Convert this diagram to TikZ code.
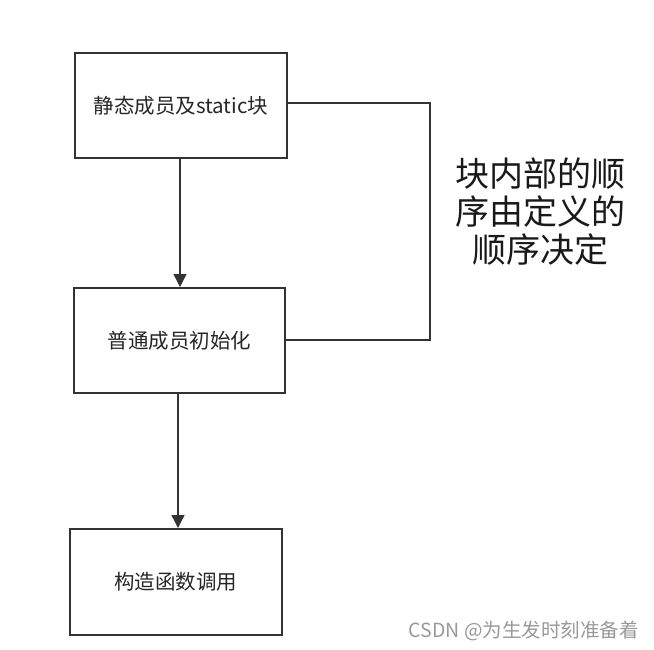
\documentclass[tikz,border=0pt]{standalone}
\usepackage{fontspec}
\setmainfont{Noto Sans CJK SC}
\newfontfamily\cjk{Noto Sans CJK SC}
\usetikzlibrary{arrows.meta}
\definecolor{linec}{HTML}{333333}
\definecolor{wm}{HTML}{999999}
\begin{document}
\begin{tikzpicture}[x=1pt,y=-1pt,
  boxst/.style={draw=linec,line width=1.8pt,fill=white,inner sep=0pt,anchor=north west,font=\cjk\fontsize{20.5}{24}\selectfont,text=black!85},
  conn/.style={draw=linec,line width=1.3pt},
  arr/.style={conn,-{Triangle[length=13pt,width=13pt]}}]
\useasboundingbox (0,0) rectangle (654,649);
\node[boxst,minimum width=212pt,minimum height=105pt] (a) at (74,52) {静态成员及static块};
\node[boxst,minimum width=211pt,minimum height=105pt] (b) at (73,287) {普通成员初始化};
\node[boxst,minimum width=212pt,minimum height=106pt] (c) at (69,528) {构造函数调用};
\coordinate (bt) at (180,287);
\coordinate (ct) at (178,528);
\draw[arr] (a.south -| bt) -- (bt);
\draw[arr] (b.south -| ct) -- (ct);
\coordinate (r1) at (430,103);
\coordinate (r2) at (430,340);
\draw[conn] (a.east |- r1) -- (r1) -- (r2) -- (b.east |- r2);
\node[align=center,font=\cjk\fontsize{34}{38}\selectfont,text=black!90,inner sep=0pt] (t) at (540,212) {块内部的顺\\序由定义的\\顺序决定};
\node[font=\cjk\fontsize{19.5}{22}\selectfont,text=wm,inner sep=0pt,anchor=east] (w) at (639,631) {CSDN @为生发时刻准备着};
\end{tikzpicture}
\end{document}
